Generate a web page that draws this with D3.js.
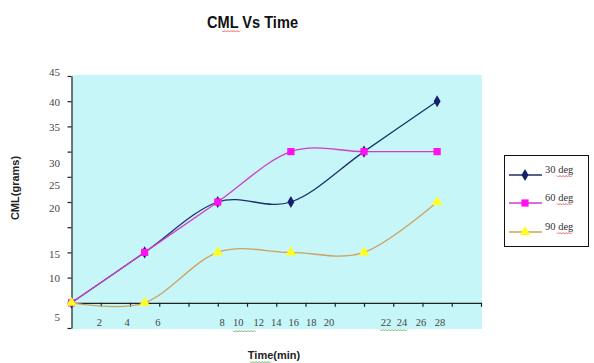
<!DOCTYPE html>
<html>
<head>
<meta charset="utf-8">
<script src="https://cdn.jsdelivr.net/npm/d3@7/dist/d3.min.js"></script>
<style>
  html, body { margin: 0; padding: 0; background: #ffffff; }
  svg { display: block; }
</style>
</head>
<body>
<svg id="chart" width="594" height="363"></svg>
<script>
// ---- data ----
const times = [0, 5, 10, 15, 20, 25];
const seriesNames = ["30 deg", "60 deg", "90 deg"];
const cml30 = [0, 10, 20, 20, 30, 40];
const cml60 = [0, 10, 20, 30, 30, 30];
const cml90 = [0, 0, 10, 10, 10, 20];
const xTickLabels = ["2", "4", "6", "8", "10", "12", "14", "16", "18", "20", "22", "24", "26", "28"];
const yTickLabels = ["45", "40", "35", "30", "25", "20", "15", "10", "5"];

// where each hand-placed tick label sits, in axis units
const xLabelAt = [1.9, 3.8, 5.9, 10.3, 11.4, 12.8, 14.0, 15.2, 16.4, 17.6, 21.5, 22.6, 23.9, 25.2];
const yLabelAt = [45.8, 39.9, 34.9, 27.8, 23.3, 18.8, 9.6, 4.9, -2.8];

const svg = d3.select("#chart");

const x = d3.scaleLinear().domain([0, 28]).range([71.5, 481]);
const y = d3.scaleLinear().domain([-5, 45]).range([328, 76]);

// plot area
svg.append("rect")
  .attr("x", x(0)).attr("y", y(45) - 1)
  .attr("width", x(28) - x(0) + 1).attr("height", y(-5) - y(45) + 2)
  .attr("fill", "#c6f6f8");

// axes
const yAxis = d3.axisLeft(y).tickValues(d3.range(-5, 46, 5)).tickFormat("").tickSize(4).tickSizeOuter(0);
const xAxis = d3.axisBottom(x).tickValues(d3.range(0, 29, 2)).tickFormat("").tickSize(4).tickSizeOuter(0);

const gy = svg.append("g").attr("transform", `translate(${x(0)},0)`).call(yAxis);
const gx = svg.append("g").attr("transform", `translate(0,${y(0)})`).call(xAxis);
[gy, gx].forEach(g => {
  g.selectAll("path, line").attr("stroke", "#222").attr("stroke-width", 1.2);
});

// tick labels
const tickFont = "'Liberation Serif', 'Times New Roman', serif";
svg.append("g").selectAll("text").data(yTickLabels).join("text")
  .attr("x", 60).attr("y", (d, i) => y(yLabelAt[i]))
  .attr("dy", "0.35em").attr("text-anchor", "end")
  .attr("font-family", tickFont).attr("font-size", 11).attr("fill", "#444")
  .text(d => d);

svg.append("g").selectAll("text").data(xTickLabels).join("text")
  .attr("x", (d, i) => x(xLabelAt[i])).attr("y", 326)
  .attr("text-anchor", "middle")
  .attr("font-family", tickFont).attr("font-size", 10.5).attr("fill", "#444")
  .text(d => d);

// series
const series = [
  { name: seriesNames[0], values: cml30, line: "#1c2f6a", fill: "#14206e", symbol: d3.symbolDiamond, size: 42 },
  { name: seriesNames[1], values: cml60, line: "#d23cc8", fill: "#ff10ee", symbol: d3.symbolSquare, size: 52 },
  { name: seriesNames[2], values: cml90, line: "#cfa060", fill: "#ffff20", symbol: d3.symbolTriangle, size: 48 }
];

const line = d3.line()
  .x((d, i) => x(times[i]))
  .y(d => y(d))
  .curve(d3.curveCardinal.tension(0));

const gs = svg.append("g");
series.forEach(s => {
  gs.append("path")
    .attr("d", line(s.values))
    .attr("fill", "none")
    .attr("stroke", s.line)
    .attr("stroke-width", 1.3);
});
series.forEach(s => {
  gs.append("g").selectAll("path").data(s.values).join("path")
    .attr("transform", (d, i) => `translate(${x(times[i])},${y(d)})`)
    .attr("d", d3.symbol(s.symbol, s.size))
    .attr("fill", s.fill);
});

// legend
const lg = svg.append("g");
lg.append("rect").attr("x", 504.5).attr("y", 155.5).attr("width", 84).attr("height", 91)
  .attr("fill", "#fff").attr("stroke", "#111").attr("stroke-width", 1);
const rowY = [175, 203, 232];
series.forEach((s, i) => {
  lg.append("line").attr("x1", 509).attr("x2", 542).attr("y1", rowY[i]).attr("y2", rowY[i])
    .attr("stroke", s.line).attr("stroke-width", 1.3);
  lg.append("path").attr("transform", `translate(525,${rowY[i]})`)
    .attr("d", d3.symbol(s.symbol, s.size)).attr("fill", s.fill);
  lg.append("text").attr("x", 545).attr("y", rowY[i] - 2)
    .attr("font-family", tickFont).attr("font-size", 10.5).attr("fill", "#333")
    .text(s.name);
});

// titles
svg.append("text")
  .attr("x", 207).attr("y", 28)
  .attr("font-family", "'Liberation Sans Narrow', 'Liberation Sans', Arial, sans-serif")
  .attr("font-weight", "bold").attr("font-size", 17)
  .attr("textLength", 91).attr("lengthAdjust", "spacingAndGlyphs")
  .attr("fill", "#111")
  .text("CML Vs Time");

svg.append("text")
  .attr("transform", "translate(19,188) rotate(-90)")
  .attr("text-anchor", "middle")
  .attr("font-family", "'Liberation Sans', Arial, sans-serif")
  .attr("font-weight", "bold").attr("font-size", 11).attr("fill", "#222")
  .text("CML(grams)");

svg.append("text")
  .attr("x", 274).attr("y", 359)
  .attr("text-anchor", "middle")
  .attr("font-family", "'Liberation Sans', Arial, sans-serif")
  .attr("font-weight", "bold").attr("font-size", 11).attr("fill", "#222")
  .text("Time(min)");

// proofing squiggles under a few words
function squiggle(x0, x1, yy, color) {
  const pts = [];
  for (let xx = x0, k = 0; xx <= x1; xx += 1.5, k++) pts.push([xx, yy + (k % 2 ? 1 : -0.5)]);
  svg.append("path").attr("d", d3.line()(pts)).attr("fill", "none")
    .attr("stroke", color).attr("stroke-width", 0.9).attr("opacity", 0.8);
}
squiggle(222, 240, 31, "#e03030");
series.forEach((s, i) => squiggle(557, 573, rowY[i] + 1, "#e03030"));
squiggle(233, 256, 331, "#3a9a3a");
squiggle(380, 408, 330, "#3a9a3a");
squiggle(250, 272, 362, "#3a9a3a");
</script>
</body>
</html>
